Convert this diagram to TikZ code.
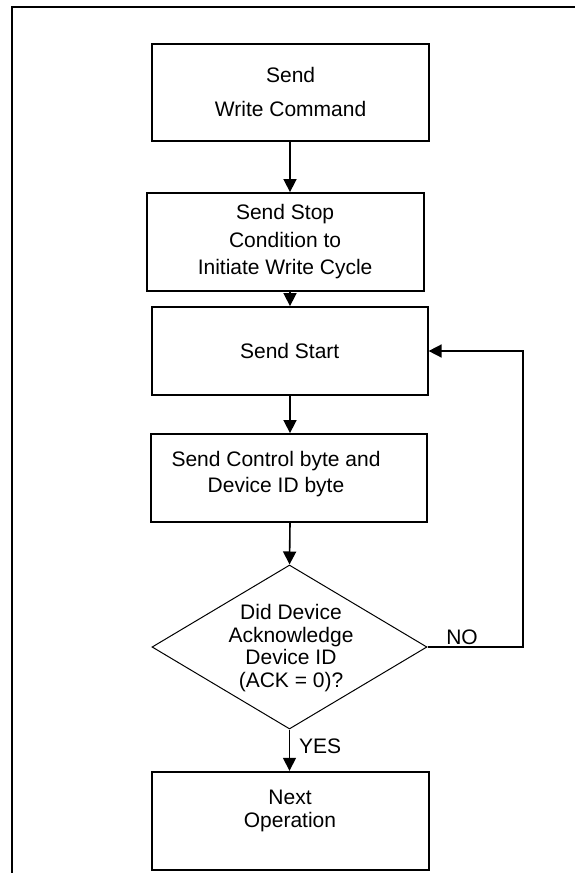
\documentclass[tikz,border=0pt]{standalone}
\usepackage{fontspec}
\setmainfont{Liberation Sans}
\usetikzlibrary{shapes.geometric,arrows.meta}
\begin{document}
\begin{tikzpicture}[x=1pt,y=-1pt,
  box/.style={draw,line width=1.8pt,minimum width=277pt,inner sep=0pt,align=center,font=\fontsize{21}{27.5}\selectfont},
  txt/.style={inner sep=0pt,align=center,font=\fontsize{21}{22.7}\selectfont},
  dec/.style={draw,diamond,line width=1pt,minimum width=275pt,minimum height=164pt,inner sep=0pt,align=center,font=\fontsize{21}{22.7}\selectfont},
  conn/.style={line width=1.6pt,-{Triangle[length=13pt,width=13pt]}},
  lbl/.style={inner sep=0pt,font=\fontsize{21}{25}\selectfont}]
\useasboundingbox (0,0) rectangle (575,873);
% frame
\draw[line width=2.2pt] (12,873) -- (12,7) -- (575,7);
% boxes
\node[box,minimum height=97pt] (b1) at (290.6,92.4) {Send\\[6.5pt]Write Command};
\node[box,minimum height=98pt] (b2) at (285.1,242) {Send Stop\\Condition to\\Initiate Write Cycle};
\node[box,minimum width=276pt,minimum height=88pt] (b3) at (289.7,351) {Send Start};
\node[box,minimum width=276pt,minimum height=88pt] (b4) at (288.9,478) {};
\node[txt,font=\fontsize{21}{26.3}\selectfont] (b4t) at (276,474) {Send Control byte and\\Device ID byte};
\node[dec] (d) at (289.5,647) {};
\node[txt] (dt) at (291,648) {Did Device\\Acknowledge\\Device ID\\(ACK = 0)?};
\node[box,minimum height=98pt] (b5) at (290.6,820.7) {};
\node[txt] (b5t) at (290,810.6) {Next\\Operation};
% connectors
\draw[conn] (290,141) coordinate (c1) -- (c1 |- b2.north);
\draw[conn] (c1 |- b2.south) -- (c1 |- b3.north);
\draw[conn] (c1 |- b3.south) -- (c1 |- b4.north);
\draw[conn] (c1 |- b4.south) -- (d.north);
\draw[conn] (d.south) -- (d.south |- b5.north);
\coordinate (r) at (523,647);
\draw[conn] (d.east) -- (r) -- (r |- b3.east) -- (b3.east);
% labels
\node[lbl,anchor=west] (yes) at (299,746) {YES};
\node[lbl] (no) at (462,637) {NO};
\end{tikzpicture}
\end{document}
